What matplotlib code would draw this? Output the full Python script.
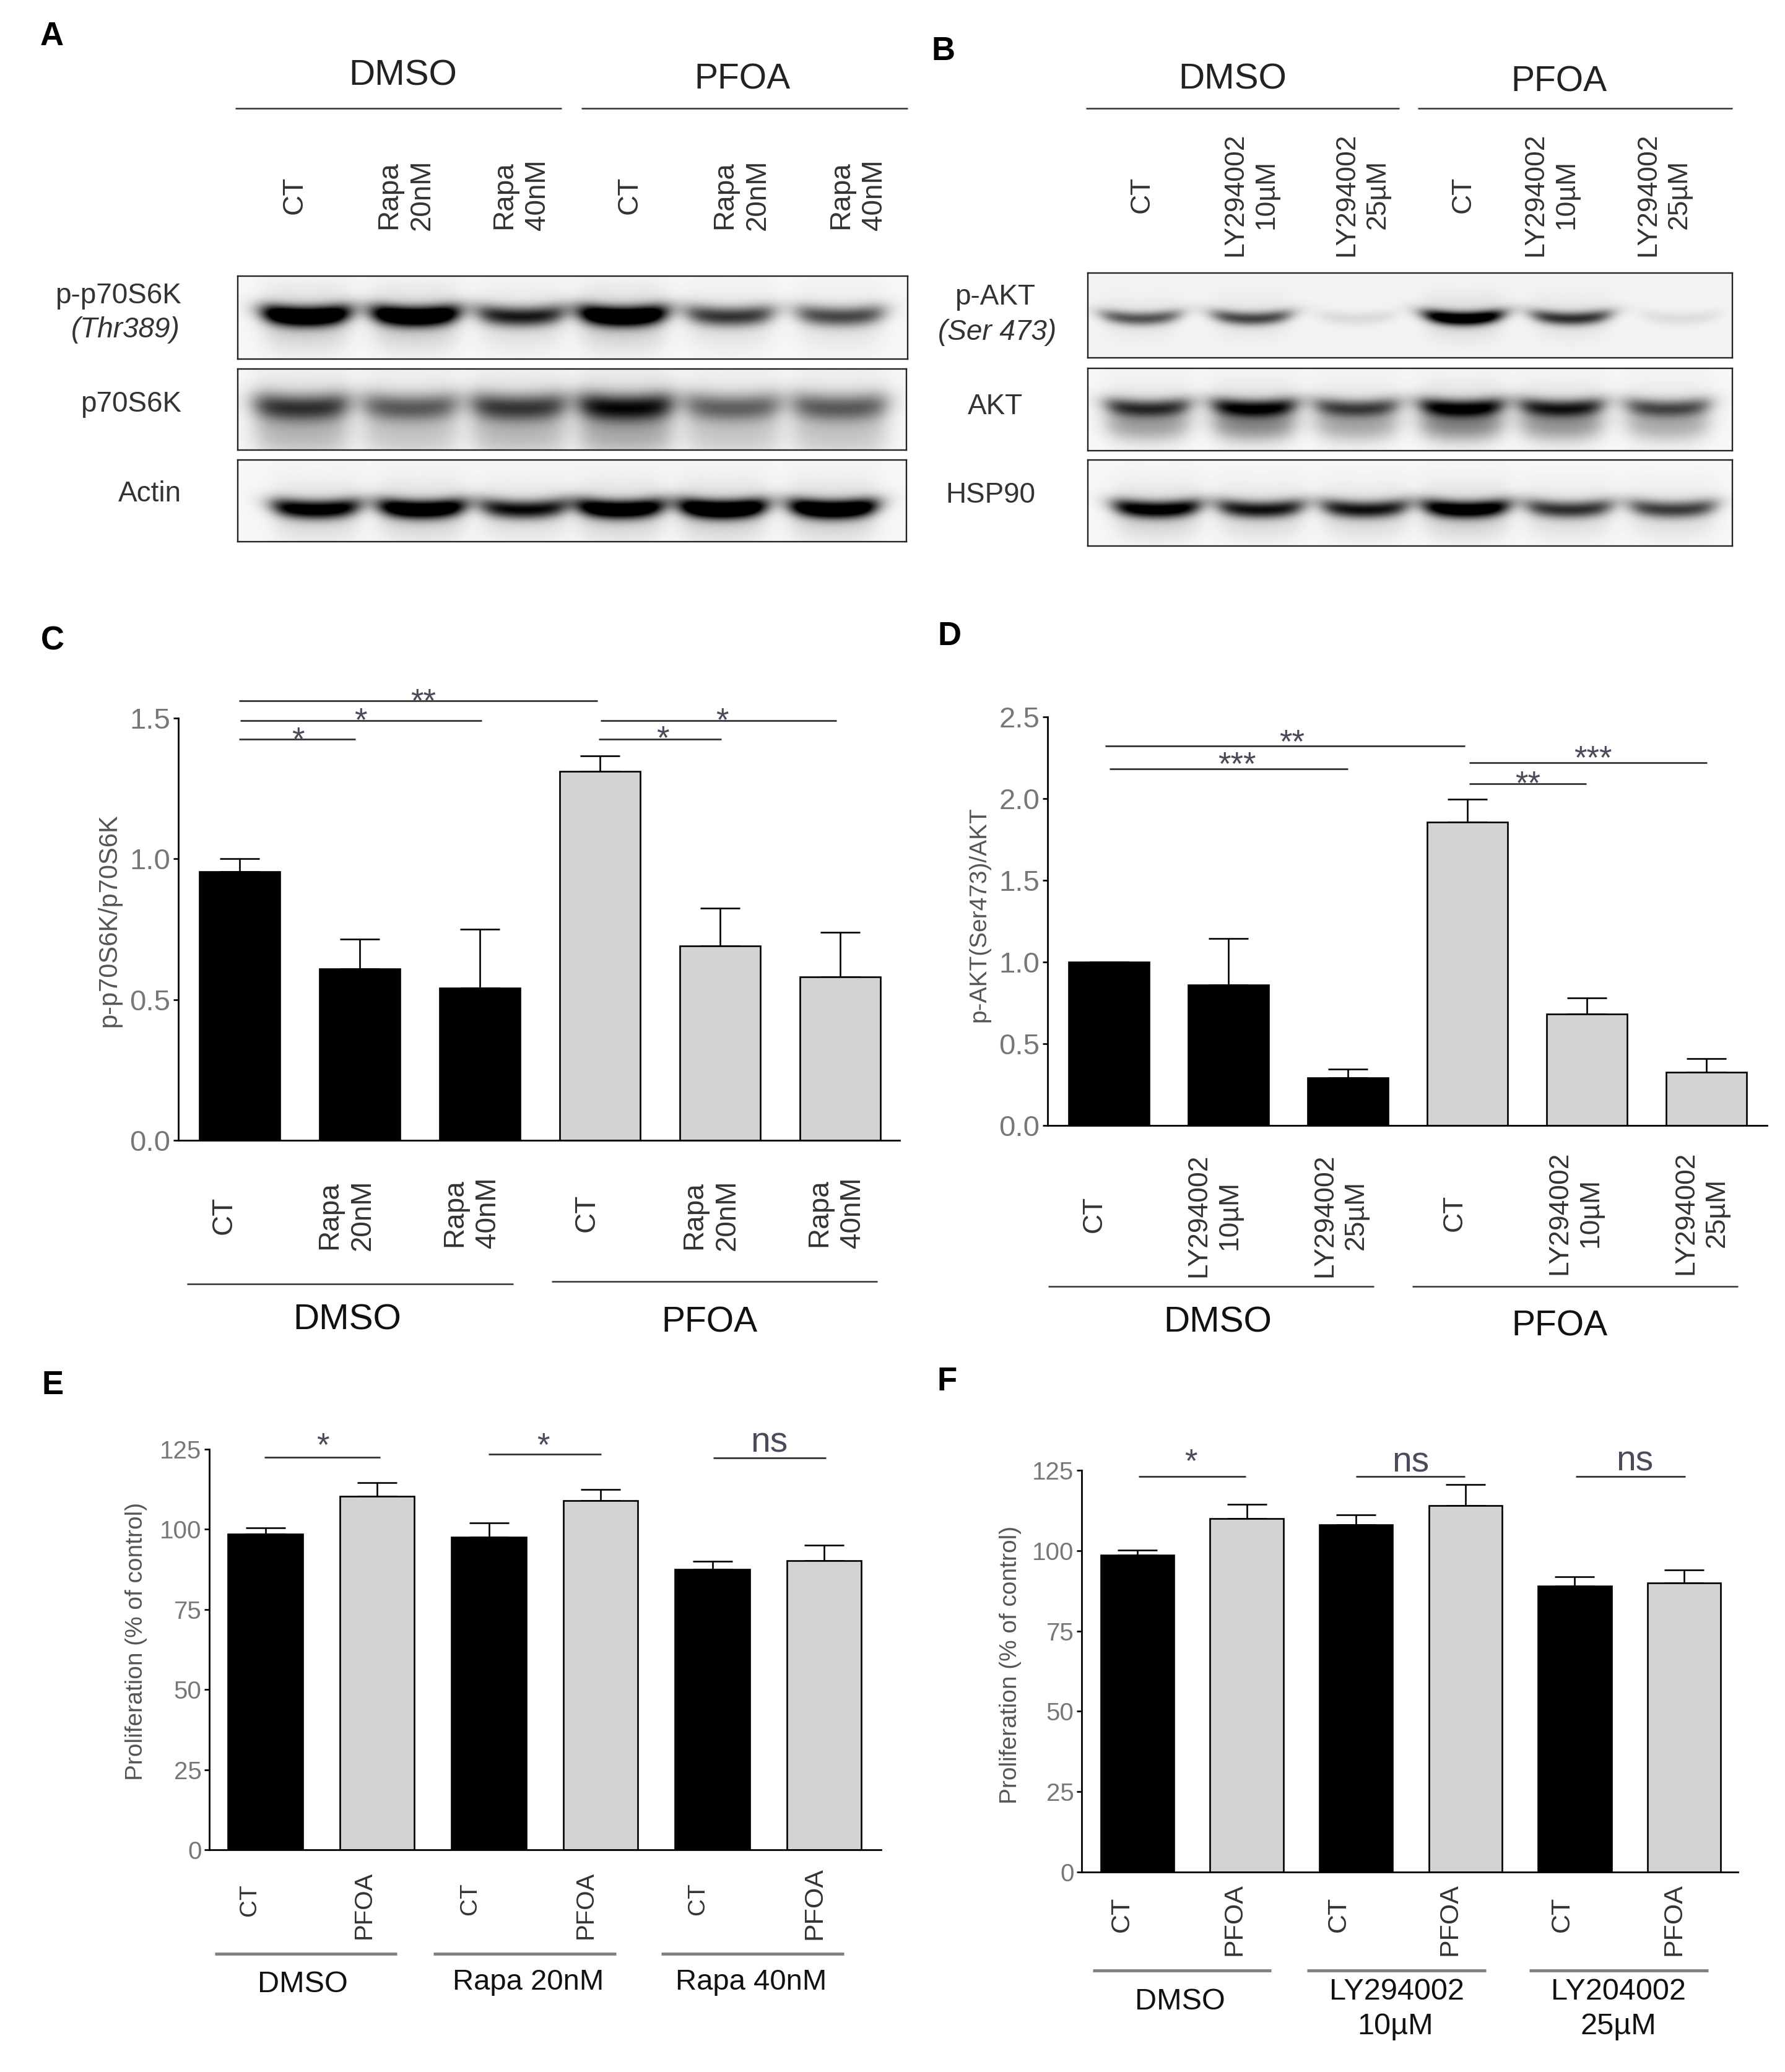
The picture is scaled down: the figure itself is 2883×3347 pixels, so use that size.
import numpy as np
import matplotlib
matplotlib.use('Agg')
import matplotlib.pyplot as plt
from matplotlib.lines import Line2D

W, H = 2883, 3347
plt.rcParams['font.family'] = ['Liberation Sans', 'DejaVu Sans']

# bar values
c_means = [0.955, 0.61, 0.54, 1.31, 0.69, 0.58]
c_tops = [1.0, 0.715, 0.75, 1.365, 0.825, 0.74]
d_means = [1.0, 0.86, 0.29, 1.855, 0.68, 0.325]
d_tops = [1.0, 1.145, 0.345, 1.995, 0.78, 0.41]
e_means = [98.5, 110.3, 97.5, 109, 87.5, 90.3]
e_tops = [100.5, 114.5, 102, 112.5, 90, 95]
f_means = [98.7, 110, 108, 114, 89, 90]
f_tops = [100.2, 114.5, 111.2, 120.5, 91.8, 94]
c_colors = ['black', 'black', 'black', '#d3d3d3', '#d3d3d3', '#d3d3d3']
e_colors = ['black', '#d3d3d3'] * 3

c_ticks = [0.0, 0.5, 1.0, 1.5]
d_ticks = [0.0, 0.5, 1.0, 1.5, 2.0, 2.5]
e_ticks = [0, 25, 50, 75, 100, 125]

# blot band darkness per lane
a_p70_phos = [1.0, 1.0, 0.6, 1.0, 0.52, 0.47]
a_p70 = [0.66, 0.52, 0.64, 0.8, 0.5, 0.52]
a_actin = [0.78, 0.9, 0.65, 0.9, 1.0, 0.97]
b_akt_phos = [0.5, 0.55, 0.08, 1.0, 0.62, 0.07]
b_akt = [0.68, 0.85, 0.62, 0.88, 0.75, 0.58]
b_hsp = [0.88, 0.72, 0.72, 0.95, 0.62, 0.58]

# lane centres as a fraction of the blot width
a_lanes1 = [0.102, 0.265, 0.423, 0.575, 0.735, 0.90]
a_lanes2 = [0.095, 0.258, 0.42, 0.58, 0.74, 0.90]
a_lanes3 = [0.117, 0.275, 0.428, 0.572, 0.725, 0.89]
b_lanes1 = [0.082, 0.254, 0.417, 0.583, 0.75, 0.92]
b_lanes2 = [0.093, 0.258, 0.417, 0.58, 0.735, 0.90]
b_lanes3 = [0.107, 0.268, 0.43, 0.587, 0.747, 0.908]


def px_text(x, y, s, size, color='#222222', **kw):
    kw.setdefault('ha', 'center')
    kw.setdefault('va', 'center')
    if kw['va'] == 'center' and 'rotation' not in kw:
        y = y + 4
    if 'rotation' in kw:
        x = x + 2
    return fig.text(x / W, 1 - y / H, s, fontsize=size, color=color, **kw)


def px_line(x0, x1, y, lw=1.8, color='#333333'):
    fig.add_artist(Line2D([x0 / W, x1 / W], [1 - y / H, 1 - y / H], color=color, lw=lw,
                          transform=fig.transFigure, solid_capstyle='butt'))


def lane_label(x, y, s, size=33, color='#333333'):
    px_text(x, y, s, size, color=color, rotation=90, multialignment='center', linespacing=1.27)


def stars(x, y, s, size=38):
    em = size * 100 / 72
    px_text(x, y - 4 + 0.58 * em, s, size, color='#4a4a5a', va='baseline')


def sig(x0, x1, y, sx, sy, s):
    px_line(x0, x1, y, lw=2.0, color='#333333')
    if s == 'ns':
        px_text(sx, sy, s, 41, color='#4a4a5a')
    else:
        stars(sx, sy, s)


def blot(box, lanes, dark, yfrac, sig_y, half_w, smear=0.0, haze=0.03, gain=1.35):
    x0, x1, y0, y1 = box
    ax = fig.add_axes([x0 / W, 1 - y1 / H, (x1 - x0) / W, (y1 - y0) / H])
    nx, ny = x1 - x0, y1 - y0
    xx, yy = np.meshgrid(np.linspace(0, 1, nx), np.linspace(0, 1, ny))
    img = np.zeros((ny, nx))
    for cx, d in zip(lanes, dark):
        prof = 0.5 * (np.tanh((xx - cx + half_w) / 0.02) - np.tanh((xx - cx - half_w) / 0.02))
        # bands sag a little in the middle of the lane
        yc = yfrac + 0.05 * (1 - ((xx - cx) / half_w) ** 2)
        band = np.exp(-((yy - yc) / sig_y) ** 2)
        low = smear * np.exp(-((yy - yc - 2.0 * sig_y) / (1.7 * sig_y)) ** 2)
        halo = 0.12 * np.exp(-((yy - yc) / (sig_y * 3.2)) ** 2)
        img += d * prof * (band * gain + low + halo)
    img = np.clip(img, 0, 1) + haze
    ax.imshow(1 - np.clip(img, 0, 1), cmap='gray', vmin=0, vmax=1, aspect='auto',
              interpolation='bilinear')
    ax.set_xticks([])
    ax.set_yticks([])
    for sp in ax.spines.values():
        sp.set_linewidth(1.7)
        sp.set_color('#222222')


def bars(left, right, y0, ytop, first, step, means, tops, colors, ticks, fmt, tick_size):
    ax = fig.add_axes([left / W, 1 - y0 / H, (right - left) / W, (y0 - ytop) / H])
    pos = np.arange(len(means))
    ax.bar(pos, means, width=0.67, color=colors, edgecolor='black', linewidth=1.9, zorder=2)
    err = np.array(tops) - np.array(means)
    ax.errorbar(pos, means, yerr=[np.zeros(len(means)), err], fmt='none', ecolor='black',
                elinewidth=1.9, capsize=23, capthick=1.9, zorder=1)
    ax.set_xlim((left - first) / step, (right - first) / step)
    ax.set_ylim(ticks[0], ticks[-1])
    ax.set_xticks([])
    ax.set_yticks(ticks)
    ax.set_yticklabels([fmt % t for t in ticks])
    ax.tick_params(axis='y', length=6, width=1.9, pad=3, labelsize=tick_size, labelcolor='#777777')
    ax.patch.set_alpha(0)
    for s in ['top', 'right']:
        ax.spines[s].set_visible(False)
    for s in ['left', 'bottom']:
        ax.spines[s].set_linewidth(2.0)
    return ax


fig = plt.figure(figsize=(W / 100, H / 100), dpi=100)

# panel letters
for let, x, y in [('A', 84, 55), ('B', 1523, 79), ('C', 85, 1031), ('D', 1534, 1024), ('E', 85, 2234),
                  ('F', 1530, 2228)]:
    px_text(x, y, let, 38, color='black', fontweight='bold')

# panel A
px_text(651, 118, 'DMSO', 42)
px_text(1199, 124, 'PFOA', 41)
px_line(380, 907, 175)
px_line(939, 1466, 175)
for x, s in [(474, 'CT'), (653, 'Rapa\n20nM'), (839, 'Rapa\n40nM'), (1015, 'CT'), (1195, 'Rapa\n20nM'),
             (1383, 'Rapa\n40nM')]:
    lane_label(x, 315, s)
px_text(293, 474, 'p-p70S6K', 33, color='#333333', ha='right')
px_text(291, 529, '(Thr389)', 33, color='#333333', ha='right', style='italic')
px_text(293, 649, 'p70S6K', 33, color='#333333', ha='right')
px_text(293, 794, 'Actin', 33, color='#333333', ha='right')
blot((384, 1466, 446, 580), a_lanes1, a_p70_phos, 0.44, 0.12, 0.062, smear=0.06)
blot((384, 1464, 596, 727), a_lanes2, a_p70, 0.43, 0.17, 0.068, smear=0.3, gain=1.0)
blot((384, 1464, 743, 875), a_lanes3, a_actin, 0.56, 0.115, 0.062, smear=0.05)

# panel B
px_text(1991, 124, 'DMSO', 42)
px_text(2518, 128, 'PFOA', 41)
px_line(1754, 2260, 175)
px_line(2290, 2798, 175)
for x, s in [(1842, 'CT'), (2018, 'LY294002\n10µM'), (2198, 'LY294002\n25µM'), (2361, 'CT'),
             (2503, 'LY294002\n10µM'), (2685, 'LY294002\n25µM')]:
    lane_label(x, 314, s, size=32)
px_text(1607, 476, 'p-AKT', 33, color='#333333')
px_text(1611, 533, '(Ser 473)', 33, color='#333333', style='italic')
px_text(1607, 653, 'AKT', 33, color='#333333')
px_text(1600, 796, 'HSP90', 33, color='#333333')
blot((1757, 2798, 441, 578), b_lanes1, b_akt_phos, 0.49, 0.08, 0.058, haze=0.045, gain=1.15)
blot((1757, 2798, 595, 728), b_lanes2, b_akt, 0.44, 0.11, 0.062, smear=0.42, gain=1.0)
blot((1757, 2798, 743, 882), b_lanes3, b_hsp, 0.53, 0.10, 0.064, smear=0.06, gain=1.15)

# panel C
bars(288, 1453, 1842, 1160, 387, 194, c_means, c_tops, c_colors, c_ticks, '%.1f', 34)
px_text(174, 1487, 'p-p70S6K/p70S6K', 30, color='#555555', rotation=90)
sig(386, 965, 1132, 684, 1122, '**')
sig(388, 778, 1164, 582, 1153, '*')
sig(386, 574, 1194, 481, 1184, '*')
sig(970, 1351, 1164, 1166, 1153, '*')
sig(967, 1165, 1194, 1070, 1182, '*')
for x, y, s in [(360, 1963, 'CT'), (557, 1963, 'Rapa\n20nM'), (759, 1959, 'Rapa\n40nM'), (946, 1959, 'CT'),
                (1146, 1963, 'Rapa\n20nM'), (1348, 1959, 'Rapa\n40nM')]:
    lane_label(x, y, s)
px_line(302, 829, 2074)
px_line(891, 1417, 2070)
px_text(561, 2128, 'DMSO', 42, color='#111111')
px_text(1146, 2133, 'PFOA', 41, color='#111111')

# panel D
bars(1692, 2854, 1818, 1158, 1791, 193, d_means, d_tops, c_colors, d_ticks, '%.1f', 34)
px_text(1579, 1477, 'p-AKT(Ser473)/AKT', 28, color='#555555', rotation=90)
sig(1785, 2366, 1205, 2087, 1188, '**')
sig(1792, 2177, 1242, 1998, 1224, '***')
sig(2373, 2757, 1232, 2573, 1214, '***')
sig(2373, 2562, 1266, 2468, 1255, '**')
for x, y, s in [(1765, 1961, 'CT'), (1959, 1963, 'LY294002\n10µM'), (2163, 1963, 'LY294002\n25µM'),
                (2347, 1959, 'CT'), (2542, 1959, 'LY294002\n10µM'), (2746, 1959, 'LY294002\n25µM')]:
    lane_label(x, y, s, size=32)
px_line(1693, 2219, 2078)
px_line(2281, 2807, 2078)
px_text(1967, 2133, 'DMSO', 42, color='#111111')
px_text(2519, 2139, 'PFOA', 41, color='#111111')

# panel E
bars(338, 1423, 2988, 2341, 428.5, 180.5, e_means, e_tops, e_colors, e_ticks, '%d', 29)
px_text(218, 2651, 'Proliferation (% of control)', 28, color='#555555', rotation=90)
sig(427, 614, 2354, 521, 2324, '*')
sig(789, 971, 2349, 877, 2324, '*')
sig(1152, 1334, 2355, 1242, 2327, 'ns')
for x, y, s, size in [(401, 3069, 'CT', 28), (586, 3077, 'PFOA', 29), (757, 3067, 'CT', 28), (944, 3077, 'PFOA', 29),
                      (1125, 3067, 'CT', 28), (1314, 3075, 'PFOA', 31)]:
    lane_label(x, y, s, size=size)
for x0, x1 in [(347, 641), (700, 995), (1068, 1363)]:
    px_line(x0, x1, 3156, lw=3.5, color='#808080')
px_text(489, 3201, 'DMSO', 35, color='#111111')
px_text(853, 3198, 'Rapa 20nM', 34, color='#111111')
px_text(1213, 3198, 'Rapa 40nM', 34, color='#111111')

# panel F
bars(1747, 2807, 3024, 2375, 1837, 176.6, f_means, f_tops, e_colors, e_ticks, '%d', 29)
px_text(1630, 2689, 'Proliferation (% of control)', 28, color='#555555', rotation=90)
sig(1839, 2012, 2385, 1923, 2350, '*')
sig(2190, 2366, 2385, 2278, 2359, 'ns')
sig(2545, 2722, 2385, 2640, 2357, 'ns')
for x, y, s in [(1810, 3092, 'CT'), (1992, 3101, 'PFOA'), (2160, 3092, 'CT'), (2340, 3101, 'PFOA'),
                (2521, 3092, 'CT'), (2701, 3101, 'PFOA')]:
    lane_label(x, y, s, size=31)
for x0, x1 in [(1765, 2053), (2111, 2400), (2470, 2759)]:
    px_line(x0, x1, 3183, lw=3.5, color='#808080')
px_text(1906, 3230, 'DMSO', 35, color='#111111')
px_text(2256, 3213, 'LY294002', 35, color='#111111')
px_text(2254, 3270, '10µM', 35, color='#111111')
px_text(2614, 3213, 'LY204002', 35, color='#111111')
px_text(2614, 3270, '25µM', 35, color='#111111')

fig.savefig('out.png', dpi=100)
